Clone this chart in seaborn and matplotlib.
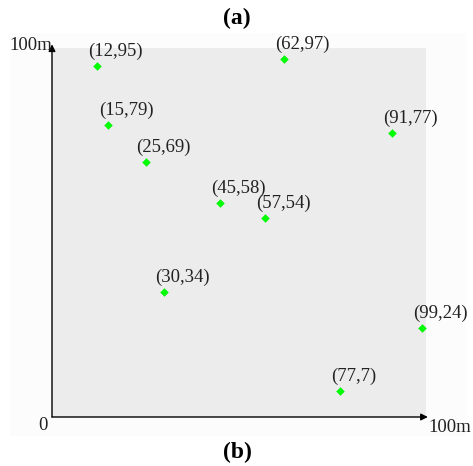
import matplotlib
matplotlib.use("Agg")
import matplotlib.pyplot as plt
import seaborn as sns
import pandas as pd
from matplotlib.patches import Rectangle

x_vals = [12, 62, 15, 91, 25, 45, 57, 30, 99, 77]
y_vals = [95, 97, 79, 77, 69, 58, 54, 34, 24, 7]
labels = [f"({a},{b})" for a, b in zip(x_vals, y_vals)]

sns.set_theme(style="white")
plt.rcParams['font.family'] = ['Liberation Serif', 'DejaVu Serif']

df = pd.DataFrame({"x": x_vals, "y": y_vals, "label": labels})

fig = plt.figure(figsize=(4.73, 4.66), dpi=100)
fig.patch.set_facecolor("white")
# faint outer panel
rect = Rectangle((10/473, 1 - 436/466), (466-10)/473, (436-33)/466,
                 transform=fig.transFigure, facecolor="#fcfcfc",
                 edgecolor="none", zorder=-5)
fig.add_artist(rect)
ax = fig.add_axes([52/473, 1 - 417/466, 374/473, 369/466])
ax.set_zorder(1)
ax.set_facecolor("#ececec")

sns.scatterplot(data=df, x="x", y="y", marker="D", color="#00ff00",
                edgecolor="#00ee00", s=16, linewidth=0.3, ax=ax, zorder=3)

for xv, yv, lab in zip(x_vals, y_vals, labels):
    ax.annotate(lab, (xv, yv), xytext=(-9, 6), textcoords="offset pixels",
                ha="left", va="bottom", fontsize=13.5, color="#222222",
                annotation_clip=False)

ax.set_xlim(0, 100)
ax.set_ylim(0, 100)
ax.set_xticks([])
ax.set_yticks([])
ax.set_xlabel("")
ax.set_ylabel("")
for s in ax.spines.values():
    s.set_visible(False)

# axis arrows
ax.annotate("", xy=(1.005, 0), xytext=(0, 0), xycoords="axes fraction",
            arrowprops=dict(arrowstyle="-|>", color="black", lw=1.0,
                            mutation_scale=10, shrinkA=0, shrinkB=0),
            annotation_clip=False)
ax.annotate("", xy=(0, 1.01), xytext=(0, 0), xycoords="axes fraction",
            arrowprops=dict(arrowstyle="-|>", color="black", lw=1.0,
                            mutation_scale=10, shrinkA=0, shrinkB=0),
            annotation_clip=False)

fig.text(31/473, 1 - 45/466, "100m", ha="center", va="center", fontsize=13.5, color="#222222", zorder=5)
fig.text(43/473, 1 - 425/466, "0", ha="center", va="center", fontsize=13.5, color="#222222", zorder=5)
fig.text(450/473, 1 - 428/466, "100m", ha="center", va="center", fontsize=13.5, color="#222222", zorder=5)

fig.text(237/473, 1 - 18/466, "(a)", ha="center", va="center", fontsize=17,
         fontweight="bold", color="black")
fig.text(237/473, 1 - 452/466, "(b)", ha="center", va="center", fontsize=17,
         fontweight="bold", color="black")

fig.savefig("out.png", dpi=100)
